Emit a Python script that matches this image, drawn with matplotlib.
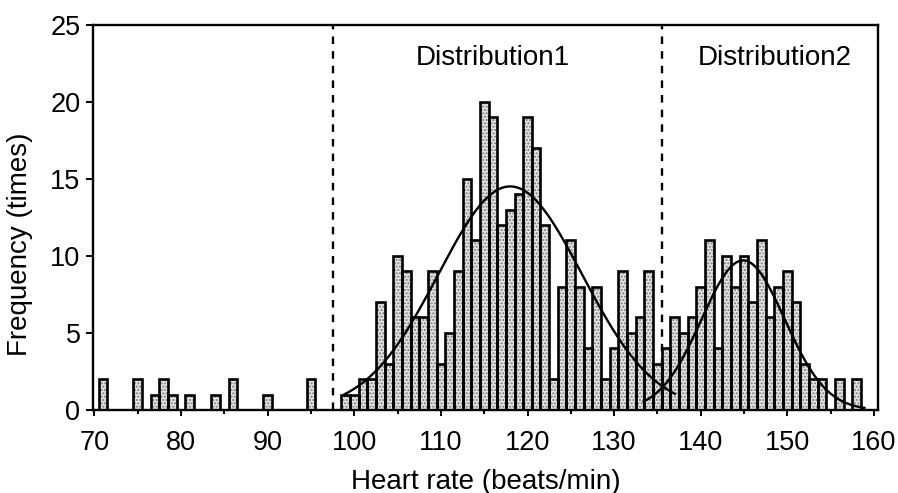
import numpy as np
import matplotlib
matplotlib.use("Agg")
import matplotlib.pyplot as plt
from matplotlib.ticker import MultipleLocator

plt.rcParams['font.family'] = ['Liberation Sans', 'DejaVu Sans']

# ---- data ----
heart_rate = [71, 75, 77, 78, 79, 81, 84, 86, 90, 95,
              99, 100, 101, 102, 103, 104, 105, 106, 107, 108,
              109, 110, 111, 112, 113, 114, 115, 116, 117, 118,
              119, 120, 121, 122, 123, 124, 125, 126, 127, 128,
              129, 130, 131, 132, 133, 134, 135, 136, 137, 138,
              139, 140, 141, 142, 143, 144, 145, 146, 147, 148,
              149, 150, 151, 152, 153, 154, 156, 158]
frequency = [2, 2, 1, 2, 1, 1, 1, 2, 1, 2,
             1, 1, 2, 2, 7, 3, 10, 9, 6, 6,
             9, 3, 5, 9, 15, 11, 20, 19, 12, 13,
             14, 19, 17, 12, 2, 8, 11, 8, 4, 8,
             2, 4, 9, 5, 6, 9, 3, 4, 6, 5,
             6, 8, 11, 4, 10, 8, 10, 7, 11, 6,
             8, 9, 7, 3, 2, 2, 2, 2]

# fitted normal curves (mean, sd, peak height, drawn range)
fit1_mean, fit1_sd, fit1_peak, fit1_range = 118.0, 8.3, 14.5, (98.9, 137.0)
fit2_mean, fit2_sd, fit2_peak, fit2_range = 144.9, 4.8, 9.7, (133.4, 158.9)

boundaries = [97.5, 135.5]
region_labels = ['Distribution1', 'Distribution2']
region_label_x = [116.0, 148.5]
region_label_y = 22.8

x_ticks = list(range(70, 161, 10))
y_ticks = list(range(0, 26, 5))

# ---- figure ----
fig = plt.figure(figsize=(8.98, 4.93), dpi=100)
ax = fig.add_axes([0.10356, 0.16836, 0.87417, 0.78194])

# stippled fill
ax.bar(heart_rate, frequency, width=1.0, facecolor='#e4e4e4',
       edgecolor='#7a7a7a', linewidth=0, hatch='.....', zorder=2)
# outlines
ax.bar(heart_rate, frequency, width=1.0, fill=False,
       edgecolor='black', linewidth=1.9, zorder=3)

for (m, s, a, (x0, x1)) in [(fit1_mean, fit1_sd, fit1_peak, fit1_range),
                            (fit2_mean, fit2_sd, fit2_peak, fit2_range)]:
    xs = np.linspace(x0, x1, 300)
    ax.plot(xs, a * np.exp(-0.5 * ((xs - m) / s) ** 2),
            color='black', lw=1.7, zorder=4)

for b in boundaries:
    ax.axvline(b, color='black', lw=1.7, linestyle=(0, (3.2, 3.0)), zorder=4)

for lab, lx in zip(region_labels, region_label_x):
    ax.text(lx, region_label_y, lab, ha='center', va='center', fontsize=20)

ax.set_xlim(69.83, 160.47)
ax.set_ylim(0, 25)
ax.set_xticks(x_ticks)
ax.xaxis.set_minor_locator(MultipleLocator(5))
ax.set_yticks(y_ticks)

for sp in ax.spines.values():
    sp.set_linewidth(1.7)
    sp.set_zorder(5)

ax.tick_params(axis='x', which='major', direction='out', length=4.5, width=1.4,
               labelsize=19.5, pad=10)
ax.tick_params(axis='x', which='minor', direction='out', length=3, width=1.4)
ax.tick_params(axis='y', which='major', direction='out', length=5, width=1.4,
               labelsize=19.5, pad=4)

ax.set_xlabel('Heart rate (beats/min)', fontsize=20, labelpad=9)
ax.set_ylabel('Frequency (times)', fontsize=20)
ax.yaxis.set_label_coords(-0.076, 0.43)

fig.savefig('out.png', dpi=100)
